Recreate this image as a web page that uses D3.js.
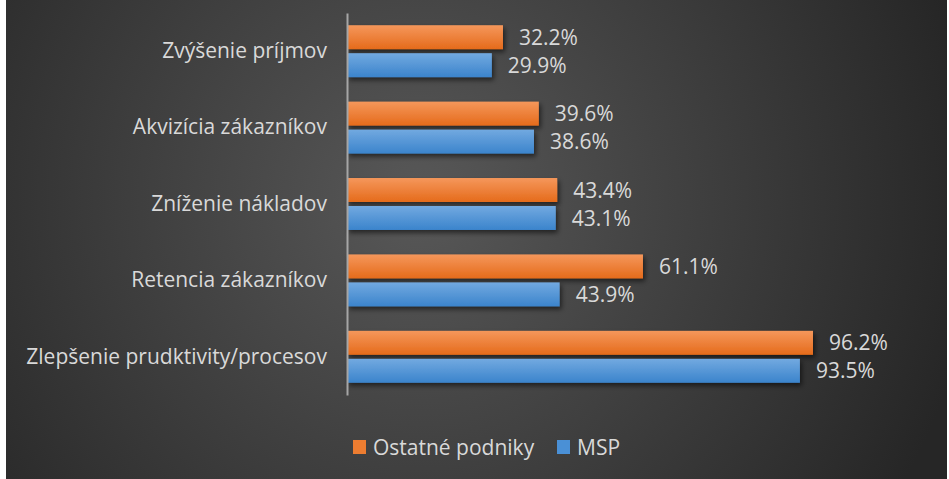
<!DOCTYPE html>
<html><head><meta charset="utf-8">
<script src="https://cdn.jsdelivr.net/npm/d3@7"></script>
<style>html,body{margin:0;padding:0;background:#fff;}svg{display:block;}</style>
</head><body>
<script>
const categories = ["Zvýšenie príjmov","Akvizícia zákazníkov","Zníženie nákladov","Retencia zákazníkov","Zlepšenie prudktivity/procesov"];
const seriesNames = ["Ostatné podniky","MSP"];
const ostatne = [32.2, 39.6, 43.4, 61.1, 96.2];
const msp = [29.9, 38.6, 43.1, 43.9, 93.5];
const colors = ["#ed7d31","#4a90d6"];

const W = 949, H = 479;
const svg = d3.select("body").append("svg").attr("width", W).attr("height", H);
const defs = svg.append("defs");
const rg = defs.append("radialGradient").attr("id","bg").attr("gradientUnits","userSpaceOnUse")
  .attr("cx",420).attr("cy",200).attr("r",560);
rg.append("stop").attr("offset","0").attr("stop-color","#585858");
rg.append("stop").attr("offset","1").attr("stop-color","#262626");
const og = defs.append("linearGradient").attr("id","gO").attr("x1",0).attr("y1",0).attr("x2",0).attr("y2",1);
og.append("stop").attr("offset","0").attr("stop-color","#f5975b");
og.append("stop").attr("offset","1").attr("stop-color","#e56b1b");
const bg2 = defs.append("linearGradient").attr("id","gB").attr("x1",0).attr("y1",0).attr("x2",0).attr("y2",1);
bg2.append("stop").attr("offset","0").attr("stop-color","#72a9e0");
bg2.append("stop").attr("offset","1").attr("stop-color","#3b84cc");
const f = defs.append("filter").attr("id","sh").attr("x","-10%").attr("y","-30%").attr("width","130%").attr("height","180%");
f.append("feDropShadow").attr("dx",2).attr("dy",3).attr("stdDeviation",2.5).attr("flood-color","#000").attr("flood-opacity",0.55);

svg.append("rect").attr("x",6).attr("y",0).attr("width",941).attr("height",H).attr("fill","url(#bg)");

const x = d3.scaleLinear().domain([0,100]).range([347, 831.4]);
const y = d3.scaleBand().domain(categories).range([13,395]).paddingInner(0.32).paddingOuter(0.16);
const ys = d3.scaleBand().domain(seriesNames).range([0,y.bandwidth()]).paddingInner(0.143);

const data = [];
categories.forEach((c,i)=>{
  data.push({c, s:seriesNames[0], v:ostatne[i], fill:"url(#gO)"});
  data.push({c, s:seriesNames[1], v:msp[i], fill:"url(#gB)"});
});

const font = "'Open Sans', sans-serif";
const g = svg.append("g");
g.selectAll("rect.bar").data(data).join("rect").attr("class","bar")
  .attr("x", x(0)).attr("y", d=>y(d.c)+ys(d.s))
  .attr("width", d=>x(d.v)-x(0)).attr("height", ys.bandwidth())
  .attr("fill", d=>d.fill).attr("filter","url(#sh)");

g.selectAll("text.val").data(data).join("text").attr("class","val")
  .attr("x", d=>x(d.v)+16).attr("y", d=>y(d.c)+ys(d.s)+ys.bandwidth()/2)
  .attr("dy","0.36em").attr("fill","#d9d9d9").attr("font-family",font).attr("font-size",21)
  .text(d=>d.v.toFixed(1)+"%");

const yAxis = d3.axisLeft(y).tickSize(0).tickPadding(20);
const ax = svg.append("g").attr("transform",`translate(${x(0)},0)`).call(yAxis);
ax.select(".domain").attr("stroke","#a6a6a6").attr("stroke-width",2);
ax.selectAll("text").attr("fill","#d9d9d9").attr("font-family",font).attr("font-size",21);

// legend
const leg = svg.append("g").attr("transform","translate(353,447)");
const items = [{n:seriesNames[0], c:"#ed7d31", x:0},{n:seriesNames[1], c:"#4a90d6", x:204}];
items.forEach(it=>{
  leg.append("rect").attr("x",it.x).attr("y",-7).attr("width",13).attr("height",14).attr("fill",it.c);
  leg.append("text").attr("x",it.x+20).attr("y",0).attr("dy","0.36em").attr("fill","#d9d9d9")
    .attr("font-family",font).attr("font-size",21).text(it.n);
});
</script>
</body></html>
